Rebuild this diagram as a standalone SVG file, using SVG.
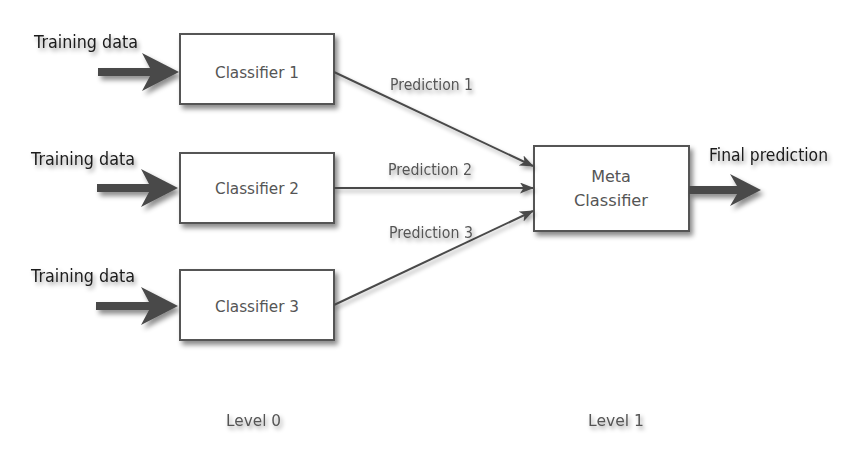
<svg xmlns="http://www.w3.org/2000/svg" width="860" height="460" viewBox="0 0 860 460">
<defs>
<filter id="sh" x="-20%" y="-20%" width="150%" height="160%">
<feDropShadow dx="3" dy="4" stdDeviation="2.5" flood-color="#000" flood-opacity="0.45"/>
</filter>
<filter id="lsh" filterUnits="userSpaceOnUse" x="0" y="0" width="860" height="460">
<feDropShadow dx="2" dy="3" stdDeviation="2" flood-color="#000" flood-opacity="0.35"/>
</filter>
<filter id="tsh" x="-20%" y="-40%" width="140%" height="200%">
<feDropShadow dx="2" dy="3" stdDeviation="2" flood-color="#000" flood-opacity="0.4"/>
</filter>
<marker id="ah" viewBox="0 0 14 11" refX="13" refY="5.5" markerWidth="14" markerHeight="11" markerUnits="userSpaceOnUse" orient="auto">
<path d="M0,0 L14,5.5 L0,11 L3.5,5.5 Z" fill="#4a4a4a"/>
</marker>
<style>
.box{fill:#fff;stroke:#555;stroke-width:2;filter:url(#sh)}
.lbl{font-family:"DejaVu Sans","Liberation Sans",sans-serif;font-size:16px;fill:#555;text-anchor:middle}
.pl{font-family:"DejaVu Sans","Liberation Sans",sans-serif;font-size:15px;fill:#555;filter:url(#tsh)}
.td{font-family:"DejaVu Sans","Liberation Sans",sans-serif;font-size:17px;fill:#1a1a1a;filter:url(#tsh)}
.conn{stroke:#4a4a4a;stroke-width:2;fill:none;marker-end:url(#ah);filter:url(#lsh)}
.big{fill:#4a4a4a;filter:url(#sh)}
</style>
</defs>
<g id="inputs">
<text class="td" x="34" y="48" textLength="104" lengthAdjust="spacingAndGlyphs">Training data</text>
<path class="big" d="M98,68 L150,68 L142,53 L179,72 L142,91 L150,76 L98,76 Z"/>
<text class="td" x="31" y="165" textLength="104" lengthAdjust="spacingAndGlyphs">Training data</text>
<path class="big" d="M97,184 L149,184 L141,169 L178,188 L141,207 L149,192 L97,192 Z"/>
<text class="td" x="31" y="282" textLength="104" lengthAdjust="spacingAndGlyphs">Training data</text>
<path class="big" d="M96,302 L149,302 L141,287 L178,306 L141,325 L149,310 L96,310 Z"/>
</g>
<g id="classifier1">
<rect class="box" x="180" y="34" width="154" height="70"/>
<text class="lbl" x="257" y="78" textLength="84" lengthAdjust="spacingAndGlyphs">Classifier 1</text>
</g>
<g id="classifier2">
<rect class="box" x="180" y="153" width="154" height="70"/>
<text class="lbl" x="257" y="194" textLength="84" lengthAdjust="spacingAndGlyphs">Classifier 2</text>
</g>
<g id="classifier3">
<rect class="box" x="180" y="270" width="154" height="70"/>
<text class="lbl" x="257" y="312" textLength="84" lengthAdjust="spacingAndGlyphs">Classifier 3</text>
</g>
<g id="meta">
<rect class="box" x="534" y="146" width="155" height="85"/>
<text class="lbl" x="611" y="182">Meta</text>
<text class="lbl" x="611" y="206" textLength="74" lengthAdjust="spacingAndGlyphs">Classifier</text>
</g>
<g id="connectors">
<line class="conn" x1="334" y1="72" x2="533" y2="166"/>
<line class="conn" x1="334" y1="188" x2="533" y2="188"/>
<line class="conn" x1="334" y1="305" x2="533" y2="211"/>
<text class="pl" x="390" y="90" textLength="83" lengthAdjust="spacingAndGlyphs">Prediction 1</text>
<text class="pl" x="388" y="175" textLength="84" lengthAdjust="spacingAndGlyphs">Prediction 2</text>
<text class="pl" x="389" y="238" textLength="84" lengthAdjust="spacingAndGlyphs">Prediction 3</text>
</g>
<g id="output">
<path class="big" d="M689,186 L737,186 L730,174 L761,190 L730,206 L737,194 L689,194 Z"/>
<text class="td" x="709" y="161" textLength="119" lengthAdjust="spacingAndGlyphs">Final prediction</text>
</g>
<g id="levels">
<text class="pl" x="226" y="426" style="font-size:16px" textLength="55" lengthAdjust="spacingAndGlyphs">Level 0</text>
<text class="pl" x="588" y="426" style="font-size:16px" textLength="56" lengthAdjust="spacingAndGlyphs">Level 1</text>
</g>
</svg>
